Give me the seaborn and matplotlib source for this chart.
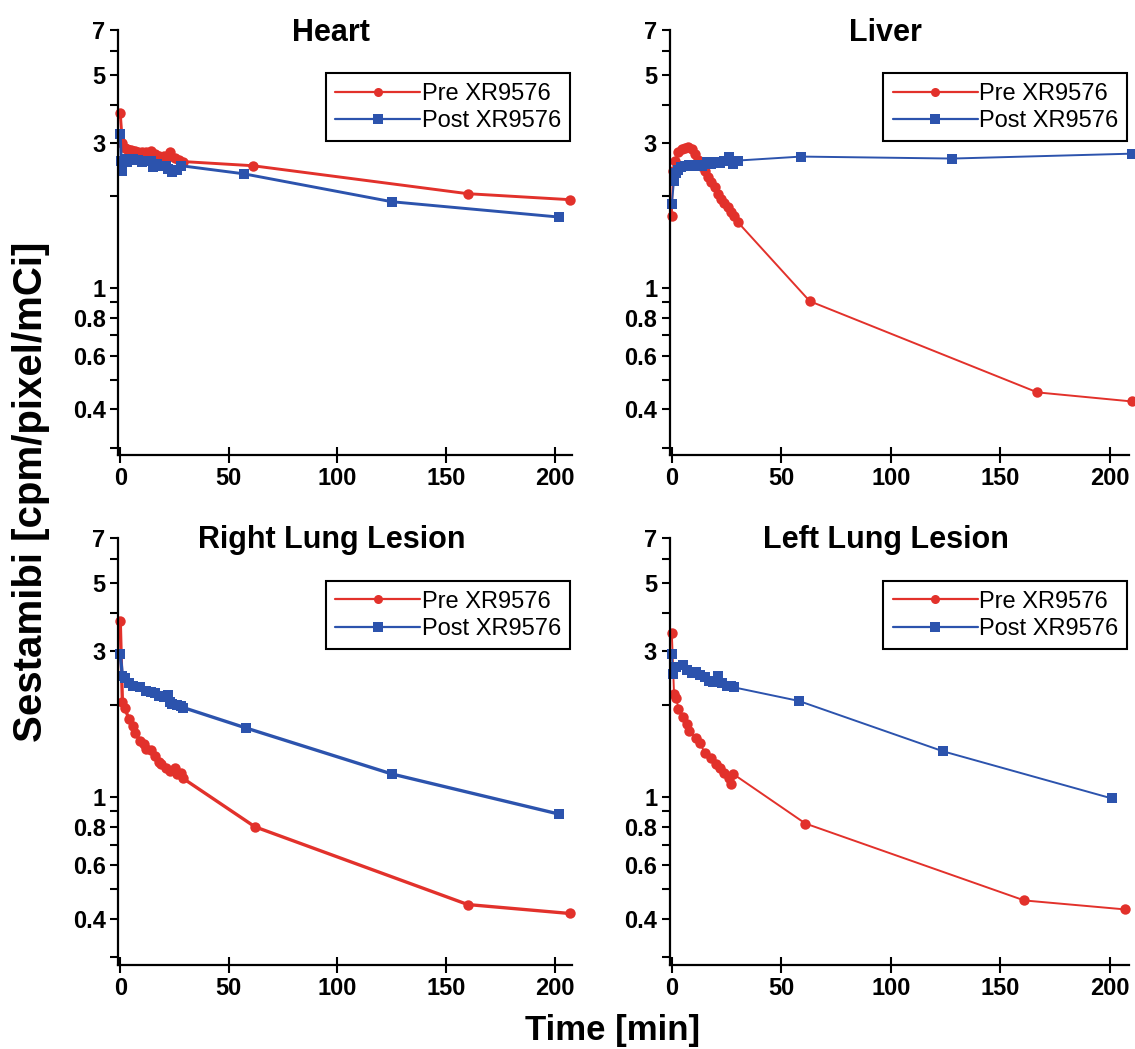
import numpy as np
import pandas as pd
import matplotlib
matplotlib.use("Agg")
import matplotlib.pyplot as plt
import seaborn as sns

# ---------------- data ----------------
heart_pre_t = [0, 1, 2, 3, 4, 5, 6, 7, 8, 10, 12, 14, 16, 18, 20, 22, 23, 25, 27, 29, 61, 160, 207]
heart_pre_v = [3.75, 3.0, 2.88, 2.86, 2.84, 2.84, 2.82, 2.82, 2.8, 2.8, 2.8, 2.82, 2.76, 2.72, 2.72, 2.7, 2.8, 2.68, 2.64, 2.6, 2.52, 2.04, 1.95]
heart_post_t = [0, 0.5, 1, 2, 3, 4, 6, 8, 10, 12, 14, 15, 17, 19, 21, 22, 24, 26, 28, 57, 125, 202]
heart_post_v = [3.2, 2.62, 2.42, 2.66, 2.6, 2.64, 2.66, 2.64, 2.6, 2.62, 2.62, 2.5, 2.56, 2.52, 2.52, 2.46, 2.4, 2.44, 2.52, 2.37, 1.92, 1.71]

liver_pre_t = [0, 0.5, 1.5, 3, 4.5, 6, 7.5, 9, 10.5, 12, 13.5, 15, 16.5, 18, 19.5, 21, 22.5, 24, 25.5, 27, 28.5, 30, 63, 167, 210]
liver_pre_v = [1.72, 2.42, 2.62, 2.8, 2.86, 2.88, 2.9, 2.86, 2.76, 2.64, 2.52, 2.42, 2.32, 2.22, 2.14, 2.04, 1.96, 1.9, 1.84, 1.78, 1.72, 1.65, 0.906, 0.455, 0.425]
liver_post_t = [0, 1, 2, 3, 4, 6, 8, 10, 12, 14, 16, 18, 20, 22, 24, 26, 28, 30, 59, 128, 210]
liver_post_v = [1.89, 2.25, 2.38, 2.44, 2.5, 2.52, 2.54, 2.52, 2.54, 2.52, 2.6, 2.56, 2.6, 2.58, 2.62, 2.7, 2.56, 2.62, 2.7, 2.66, 2.76]

rlung_pre_t = [0, 1, 2, 4, 6, 7, 9, 11, 12, 14, 16, 18, 19, 21, 23, 25, 26, 28, 29, 62, 160, 207]
rlung_pre_v = [3.75, 2.05, 1.96, 1.8, 1.7, 1.62, 1.53, 1.49, 1.44, 1.42, 1.36, 1.3, 1.28, 1.24, 1.22, 1.24, 1.19, 1.2, 1.15, 0.80, 0.446, 0.417]
rlung_post_t = [0, 1, 2, 4, 6, 9, 12, 14, 16, 18, 20, 22, 23, 24, 26, 28, 29, 58, 125, 202]
rlung_post_v = [2.94, 2.48, 2.44, 2.36, 2.3, 2.28, 2.22, 2.2, 2.18, 2.14, 2.12, 2.16, 2.04, 2.02, 2.0, 1.99, 1.96, 1.68, 1.19, 0.88]

llung_pre_t = [0, 1, 2, 3, 5, 7, 8, 11, 13, 15, 18, 20, 22, 24, 26, 27, 28, 61, 161, 207]
llung_pre_v = [3.42, 2.17, 2.11, 1.94, 1.82, 1.73, 1.64, 1.56, 1.5, 1.39, 1.34, 1.28, 1.24, 1.2, 1.15, 1.1, 1.19, 0.82, 0.46, 0.43]
llung_post_t = [0, 0.5, 2, 5, 7, 9, 11, 13, 15, 17, 19, 21, 23, 25, 27, 28.5, 58, 124, 201]
llung_post_v = [2.94, 2.53, 2.65, 2.69, 2.6, 2.55, 2.56, 2.5, 2.46, 2.4, 2.38, 2.49, 2.36, 2.31, 2.3, 2.28, 2.06, 1.41, 0.99]

panel_titles = ["Heart", "Liver", "Right Lung Lesion", "Left Lung Lesion"]
series_names = ["Pre XR9576", "Post XR9576"]
y_ticks = [0.3, 0.4, 0.5, 0.6, 0.7, 0.8, 0.9, 1, 2, 3, 4, 5, 6, 7]
y_tick_labels = ["", "0.4", "", "0.6", "", "0.8", "", "1", "", "3", "", "5", "", "7"]
x_ticks = [0, 50, 100, 150, 200]

panels = [
    (heart_pre_t, heart_pre_v, heart_post_t, heart_post_v),
    (liver_pre_t, liver_pre_v, liver_post_t, liver_post_v),
    (rlung_pre_t, rlung_pre_v, rlung_post_t, rlung_post_v),
    (llung_pre_t, llung_pre_v, llung_post_t, llung_post_v),
]

# ---------------- style ----------------
sns.set_theme(style="ticks")
plt.rcParams["font.family"] = ["Liberation Sans", "DejaVu Sans"]
plt.rcParams["text.color"] = "black"

RED = "#e2312b"
BLUE = "#2c53ad"
palette = {"Pre XR9576": RED, "Post XR9576": BLUE}
markers = {"Pre XR9576": "o", "Post XR9576": "s"}

fig = plt.figure(figsize=(11.35, 10.49), dpi=100)
positions = [
    [0.104, 0.566, 0.400, 0.405],
    [0.590, 0.566, 0.405, 0.405],
    [0.104, 0.080, 0.400, 0.407],
    [0.590, 0.080, 0.405, 0.407],
]
line_widths = [2.1, 1.4, 2.4, 1.4]

for i, (pos, title, data) in enumerate(zip(positions, panel_titles, panels)):
    ax = fig.add_axes(pos)
    pre_t, pre_v, post_t, post_v = data
    df = pd.concat([
        pd.DataFrame({"t": pre_t, "v": pre_v, "series": series_names[0]}),
        pd.DataFrame({"t": post_t, "v": post_v, "series": series_names[1]}),
    ], ignore_index=True)
    sns.lineplot(data=df, x="t", y="v", hue="series", style="series",
                 hue_order=series_names, style_order=series_names,
                 palette=palette, markers=markers, dashes=False,
                 sort=False, estimator=None, ax=ax,
                 linewidth=line_widths[i], markersize=7.5, markeredgewidth=0)
    for ln in ax.lines:
        ln.set_clip_on(False)
    ax.set_yscale("log")
    ax.set_ylim(0.283, 7)
    ax.set_xlim(-1, 208 if i % 2 == 0 else 209)
    ax.set_yticks(y_ticks, y_tick_labels)
    ax.yaxis.set_minor_locator(matplotlib.ticker.NullLocator())
    ax.set_xticks(x_ticks, [str(x) for x in x_ticks])
    ax.set_xlabel("")
    ax.set_ylabel("")
    sns.despine(ax=ax)
    for sp in ["left", "bottom"]:
        ax.spines[sp].set_linewidth(1.6)
        ax.spines[sp].set_color("black")
    ax.tick_params(axis="y", direction="out", length=6, width=1.5, colors="black",
                   labelsize=17, pad=3)
    ax.tick_params(axis="x", direction="inout", length=11, width=1.5, colors="black",
                   labelsize=17, pad=3)
    for lab in ax.get_xticklabels() + ax.get_yticklabels():
        lab.set_fontweight("bold")
    ax.text(0.47, 0.995, title, transform=ax.transAxes, ha="center", va="center",
            fontsize=22, fontweight="bold", color="black")
    handles, labels = ax.get_legend_handles_labels()
    for h in handles:
        h.set_markersize(6.5)
        h.set_linewidth(1.6)
    leg = ax.legend(handles, labels, loc="upper right", bbox_to_anchor=(0.996, 0.899),
                    fontsize=17, frameon=True, fancybox=False, framealpha=1,
                    edgecolor="black", handlelength=3.6, handletextpad=0.05,
                    borderpad=0.4, labelspacing=0.22, borderaxespad=0)
    leg.get_frame().set_linewidth(1.5)
    for t in leg.get_texts():
        t.set_color("black")

fig.text(0.027, 0.531, "Sestamibi [cpm/pixel/mCi]", rotation=90, ha="center", va="center",
         fontsize=29, fontweight="bold", color="black")
fig.text(0.54, 0.018, "Time [min]", ha="center", va="center",
         fontsize=25, fontweight="bold", color="black")

fig.savefig("out.png", dpi=100)
